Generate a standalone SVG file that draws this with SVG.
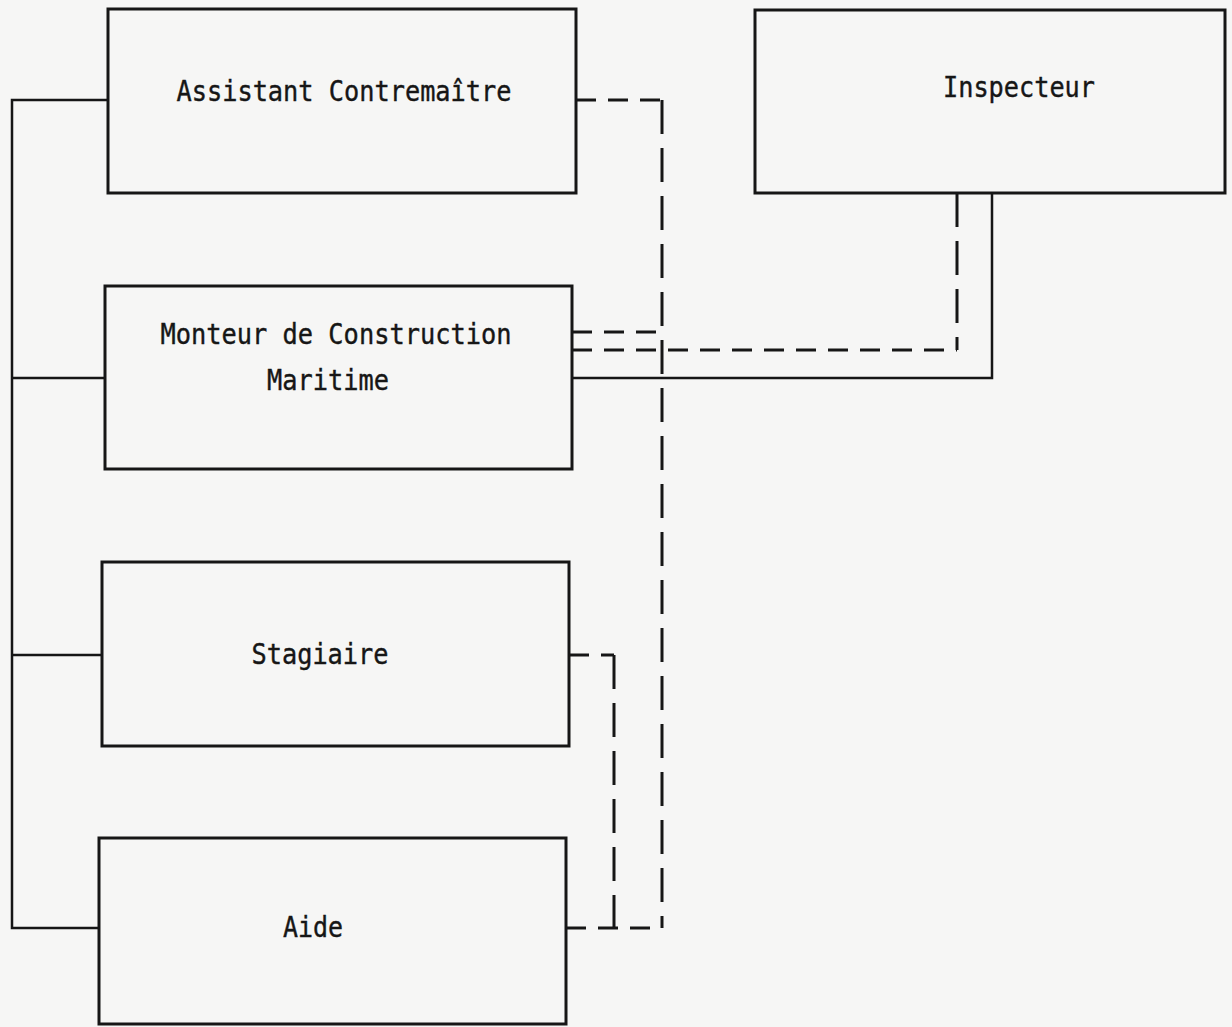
<svg xmlns="http://www.w3.org/2000/svg" width="1232" height="1027" viewBox="0 0 1232 1027">
<style>
.box{fill:none;stroke:#161616;stroke-width:3}
.solid{fill:none;stroke:#161616;stroke-width:2.5}
.dash{fill:none;stroke:#161616;stroke-width:3;stroke-dasharray:20 12}
.vdash{fill:none;stroke:#161616;stroke-width:3;stroke-dasharray:34 14}
.lbl{font-family:"DejaVu Sans Mono","Liberation Mono",monospace;font-size:28px;fill:#161616;stroke:#161616;stroke-width:0.4;text-anchor:middle}
</style>
<rect width="1232" height="1027" fill="#f6f6f5"/>
<g id="connectors">
<path class="solid" d="M108 100 H12 V928 H99 M12 378 H105 M12 655 H102"/>
<path class="solid" d="M572 378 H992 V193"/>
<path class="dash" d="M576 100 H662"/>
<path class="vdash" d="M662 100 V928"/>
<path class="dash" d="M572 332 H662"/>
<path class="dash" d="M572 350 H957"/>
<path class="vdash" d="M957 193 V350"/>
<path class="dash" d="M569 655 H614"/>
<path class="vdash" d="M614 655 V928"/>
<path class="dash" d="M566 928 H662"/>
</g>
<g id="node-assistant">
<rect class="box" x="108" y="9" width="468" height="184"/>
<text class="lbl" x="344" y="101" textLength="335" lengthAdjust="spacingAndGlyphs">Assistant Contremaître</text>
</g>
<g id="node-inspecteur">
<rect class="box" x="755" y="10" width="470" height="183"/>
<text class="lbl" x="1019" y="97" textLength="152" lengthAdjust="spacingAndGlyphs">Inspecteur</text>
</g>
<g id="node-monteur">
<rect class="box" x="105" y="286" width="467" height="183"/>
<text class="lbl" x="336" y="344" textLength="351" lengthAdjust="spacingAndGlyphs">Monteur de Construction</text>
<text class="lbl" x="328" y="390" textLength="122" lengthAdjust="spacingAndGlyphs">Maritime</text>
</g>
<g id="node-stagiaire">
<rect class="box" x="102" y="562" width="467" height="184"/>
<text class="lbl" x="320" y="664" textLength="137" lengthAdjust="spacingAndGlyphs">Stagiaire</text>
</g>
<g id="node-aide">
<rect class="box" x="99" y="838" width="467" height="186"/>
<text class="lbl" x="313" y="937" textLength="60" lengthAdjust="spacingAndGlyphs">Aide</text>
</g>
</svg>
